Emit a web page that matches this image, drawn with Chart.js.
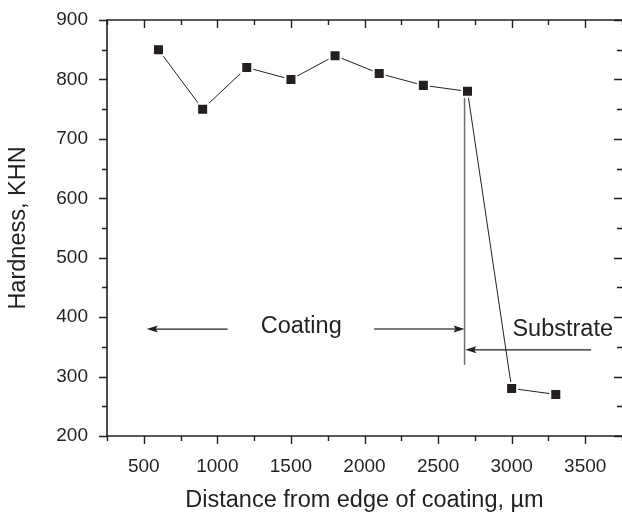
<!DOCTYPE html>
<html>
<head>
<meta charset="utf-8">
<script src="https://cdn.jsdelivr.net/npm/chart.js@4/dist/chart.umd.min.js"></script>
<style>
	html, body { margin: 0; padding: 0; background: #fff; overflow: hidden; }
	#wrap { width: 622px; height: 513px; overflow: hidden; }
</style>
</head>
<body>
<div id="wrap"><canvas id="hardnessChart" width="624" height="513" style="width:624px;height:513px"></canvas></div>
<script>
// microhardness profile across the coating / substrate interface
const distance = [600, 900, 1200, 1500, 1800, 2100, 2400, 2700, 3000, 3300];
const hardness = [850, 750, 820, 800, 840, 810, 790, 780, 280, 270];

const xTicks = [500, 1000, 1500, 2000, 2500, 3000, 3500];
const xMinorTicks = [250, 750, 1250, 1750, 2250, 2750, 3250, 3750];
const yTicks = [200, 300, 400, 500, 600, 700, 800, 900];
const yMinorTicks = [250, 350, 450, 550, 650, 750, 850];

// region markers: [x1, y1, x2, y2] in data units, arrow head at (x2, y2)
const coatingArrowLeft = [1070, 380, 520, 380];
const coatingArrowRight = [2065, 380, 2680, 380];
const interfaceLine = [2680, 780, 2680, 320];
const substrateArrow = [3540, 345, 2685, 345];
const coatingLabel = ['Coating', 1570, 374];
const substrateLabel = ['Substrate', 3347, 368];

const ink = '#231f20';
const fontFamily = '"Liberation Sans", Arial, Helvetica, sans-serif';

function arrow(ctx, x1, y1, x2, y2, color, width) {
	ctx.strokeStyle = color;
	ctx.lineWidth = width;
	const dir = Math.sign(x2 - x1);
	ctx.beginPath();
	ctx.moveTo(x1, y1);
	ctx.lineTo(x2 - dir * 8, y2);
	ctx.stroke();
	ctx.fillStyle = ink;
	ctx.beginPath();
	ctx.moveTo(x2, y2);
	ctx.lineTo(x2 - dir * 11, y2 - 3.5);
	ctx.lineTo(x2 - dir * 9, y2);
	ctx.lineTo(x2 - dir * 11, y2 + 3.5);
	ctx.closePath();
	ctx.fill();
}

const framePlugin = {
	id: 'frame',
	beforeDatasetsDraw(chart) {
		const ctx = chart.ctx;
		const { left, right, top, bottom } = chart.chartArea;
		const xs = chart.scales.x, ys = chart.scales.y;
		ctx.save();
		// left, top and bottom edges; right edge sits just past the canvas
		ctx.strokeStyle = ink;
		ctx.lineWidth = 1.6;
		ctx.beginPath();
		ctx.moveTo(right + 2, top);
		ctx.lineTo(left, top);
		ctx.lineTo(left, bottom);
		ctx.lineTo(right + 2, bottom);
		ctx.stroke();

		ctx.lineWidth = 1.4;
		ctx.beginPath();
		xTicks.forEach(v => {
			const px = Math.round(xs.getPixelForValue(v)) + 0.5;
			ctx.moveTo(px, bottom); ctx.lineTo(px, bottom + 8);
			ctx.moveTo(px, top); ctx.lineTo(px, top + 8);
		});
		xMinorTicks.forEach(v => {
			const px = Math.round(xs.getPixelForValue(v)) + 0.5;
			ctx.moveTo(px, bottom); ctx.lineTo(px, bottom + 5);
			ctx.moveTo(px, top); ctx.lineTo(px, top + 5);
		});
		yTicks.forEach(v => {
			const py = Math.round(ys.getPixelForValue(v)) + 0.5;
			ctx.moveTo(left, py); ctx.lineTo(left - 8, py);
			ctx.moveTo(right, py); ctx.lineTo(right - 8, py);
		});
		yMinorTicks.forEach(v => {
			const py = Math.round(ys.getPixelForValue(v)) + 0.5;
			ctx.moveTo(left, py); ctx.lineTo(left - 5, py);
			ctx.moveTo(right, py); ctx.lineTo(right - 5, py);
		});
		ctx.stroke();

		ctx.fillStyle = ink;
		ctx.font = '19px ' + fontFamily;
		ctx.textAlign = 'center';
		ctx.textBaseline = 'middle';
		xTicks.forEach(v => ctx.fillText(String(v), xs.getPixelForValue(v), bottom + 31));
		ctx.textAlign = 'right';
		yTicks.forEach(v => ctx.fillText(String(v), left - 19, ys.getPixelForValue(v)));

		ctx.font = '23.5px ' + fontFamily;
		ctx.textAlign = 'center';
		ctx.fillText('Distance from edge of coating, µm', (left + right) / 2, bottom + 65);
		ctx.save();
		ctx.translate(19, (top + bottom) / 2);
		ctx.rotate(-Math.PI / 2);
		ctx.fillText('Hardness, KHN', 0, 0);
		ctx.restore();

		// coating / substrate annotations
		const P = (a) => [xs.getPixelForValue(a[0]), ys.getPixelForValue(a[1]), xs.getPixelForValue(a[2]), ys.getPixelForValue(a[3])];
		let p = P(coatingArrowLeft);
		arrow(ctx, p[0], p[1], p[2], p[3], ink, 1.3);
		p = P(coatingArrowRight);
		arrow(ctx, p[0], p[1], p[2], p[3], '#7a7a7a', 2);
		p = P(substrateArrow);
		arrow(ctx, p[0], p[1], p[2], p[3], ink, 1.3);
		p = P(interfaceLine);
		ctx.strokeStyle = '#6e6e6e';
		ctx.lineWidth = 1.5;
		ctx.beginPath();
		ctx.moveTo(p[0], p[1] + 6);
		ctx.lineTo(p[2], p[3]);
		ctx.stroke();

		ctx.fillStyle = ink;
		ctx.textBaseline = 'alphabetic';
		[coatingLabel, substrateLabel].forEach(l => {
			ctx.fillText(l[0], xs.getPixelForValue(l[1]), ys.getPixelForValue(l[2]));
		});
		ctx.restore();
	}
};

new Chart(document.getElementById('hardnessChart').getContext('2d'), {
	type: 'scatter',
	plugins: [framePlugin],
	data: {
		datasets: [{
			label: 'Hardness',
			data: distance.map((d, i) => ({ x: d, y: hardness[i] })),
			showLine: true,
			borderColor: ink,
			borderWidth: 1,
			pointStyle: 'rect',
			pointRadius: 7.8,
			pointBackgroundColor: ink,
			pointBorderColor: '#fff',
			pointBorderWidth: 2
		}]
	},
	options: {
		responsive: false,
		animation: false,
		layout: { autoPadding: false, padding: { left: 107, top: 20, right: 2, bottom: 77 } },
		plugins: { legend: { display: false }, tooltip: { enabled: false } },
		scales: {
			x: { type: 'linear', min: 250, max: 3750, display: false },
			y: { type: 'linear', min: 200, max: 900, display: false }
		}
	}
});
</script>
</body>
</html>
